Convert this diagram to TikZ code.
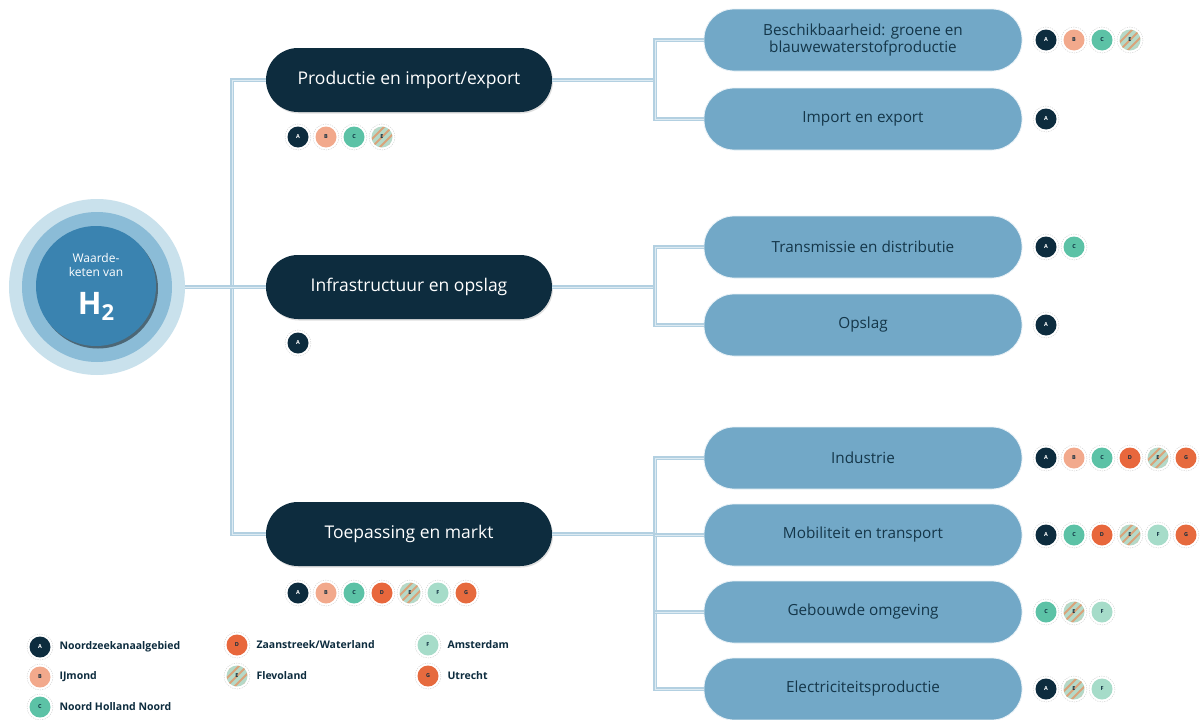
\documentclass[tikz,border=0pt]{standalone}
\usepackage{fontspec}
\setmainfont{Open Sans}
\usetikzlibrary{shadows}
\definecolor{navy}{HTML}{0D2C3E}
\definecolor{subblue}{HTML}{72A8C7}
\definecolor{subtext}{HTML}{143649}
\definecolor{lineblue}{HTML}{B3D0E1}
\definecolor{linein}{HTML}{DDEBF3}
\definecolor{ringA}{HTML}{C9E1EC}
\definecolor{ringB}{HTML}{8BBCD7}
\definecolor{coreblue}{HTML}{3A83B0}
\definecolor{colB}{HTML}{F2A98C}
\definecolor{colC}{HTML}{5CC2A6}
\definecolor{colD}{HTML}{E8673C}
\definecolor{colE}{HTML}{B5D9C8}
\definecolor{colEs}{HTML}{D9A37A}
\definecolor{colF}{HTML}{A6DCC9}
\definecolor{colG}{HTML}{E66A3E}
\tikzset{
  conn/.style={draw=lineblue, double=linein, double distance=0.9pt, line width=1.1pt, line join=miter},
  mainbox/.style={fill=navy, text=white, rounded corners=32pt, minimum width=286pt, minimum height=64pt,
    font=\fontsize{17.5}{20}\selectfont, drop shadow={opacity=0.25, shadow xshift=1pt, shadow yshift=-1.5pt, fill=gray}},
  subbox/.style={fill=subblue, draw=white!85!subblue, line width=0.8pt, text=subtext, rounded corners=30pt,
    minimum width=318pt, minimum height=62pt, align=center, font=\fontsize{15.3}{17}\selectfont},
  bdg/.style={circle, minimum size=21pt, inner sep=0pt, font=\fontsize{5.5}{6}\selectfont\bfseries, text=navy},
  ringst/.style={draw=black!18, dash pattern=on 1.2pt off 1.2pt, line width=0.5pt, fill=white},
  bA/.style={fill=navy, text=white},
  bB/.style={fill=colB},
  bC/.style={fill=colC},
  bD/.style={fill=colD},
  bE/.style={fill=colE, path picture={\foreach \i in {-24,-16,...,24}{\draw[colEs, line width=2pt] ([xshift=\i pt]path picture bounding box.south west) -- ++(22pt,22pt);}}},
  bF/.style={fill=colF},
  bG/.style={fill=colG},
  legtext/.style={anchor=west, text=navy, font=\fontsize{10.5}{12}\selectfont\bfseries},
}
\newcommand\bd[4]{\draw[ringst] ({#2},{#3}) circle (13); \node[bdg,b#4] (#1) at ({#2},{#3}) {#4};}
\newcommand\brow[4]{\foreach \l [count=\i] in {#4} {\bd{#1\i}{#2+28*(\i-1)}{#3}{\l}}}
\newcommand\htwo{\fontsize{31}{32}\selectfont\bfseries H\raisebox{-0.35ex}{\fontsize{22}{22}\selectfont 2}}
\begin{document}
\begin{tikzpicture}[x=1pt,y=-1pt]
\useasboundingbox[fill=white] (0,0) rectangle (1202,720);
% central circle
\node[circle, fill=ringA, minimum size=176pt, inner sep=0pt] (h2outer) at (97,287) {};
\node[circle, fill=ringB, minimum size=150pt, inner sep=0pt] (h2mid) at (97,287) {};
\node[circle, fill=coreblue, minimum size=120pt, inner sep=0pt,
  drop shadow={opacity=0.45, shadow xshift=2pt, shadow yshift=-2.5pt, fill=black}] (h2) at (96,286) {};
\node[text=white, align=center, font=\fontsize{12}{14}\selectfont] (h2t) at (96,265) {Waarde-\\keten van};
\node[text=white, inner sep=0pt] (h2f) at (96,306) {\htwo};
% main boxes
\node[mainbox] (p1) at (409,80) {Productie en import/export};
\node[mainbox] (p2) at (409,287) {Infrastructuur en opslag};
\node[mainbox] (p3) at (409,534) {Toepassing en markt};
% sub boxes
\node[subbox] (s1) at (863,40) {Beschikbaarheid: groene en\\blauwewaterstofproductie};
\node[subbox] (s2) at (863,119) {Import en export};
\node[subbox] (s3) at (863,247) {Transmissie en distributie};
\node[subbox] (s4) at (863,325) {Opslag};
\node[subbox] (s5) at (863,458) {Industrie};
\node[subbox] (s6) at (863,535) {Mobiliteit en transport};
\node[subbox] (s7) at (863,612) {Gebouwde omgeving};
\node[subbox] (s8) at (863,689) {Electriciteitsproductie};
% junction coordinates
\coordinate (t1) at (232,80);
\coordinate (t3) at (232,534);
\coordinate (k1) at (655,40);
\coordinate (k2) at (655,119);
\coordinate (k3) at (655,247);
\coordinate (k4) at (655,325);
\coordinate (k5) at (655,458);
\coordinate (k6) at (655,535);
\coordinate (k7) at (655,612);
\coordinate (k8) at (655,689);
% connectors
\draw[conn] (p1.west) -- (t1) -- (t3) -- (p3.west);
\draw[conn] (h2outer.east) -- (p2.west);
\draw[conn] (p1.east) -- (k1 |- p1.east);
\draw[conn] (s1.west) -- (k1) -- (k2) -- (s2.west);
\draw[conn] (p2.east) -- (k3 |- p2.east);
\draw[conn] (s3.west) -- (k3) -- (k4) -- (s4.west);
\draw[conn] (p3.east) -- (k6 |- p3.east);
\draw[conn] (s5.west) -- (k5) -- (k8) -- (s8.west);
\draw[conn] (k6) -- (s6.west);
\draw[conn] (k7) -- (s7.west);
% badges under main boxes
\brow{u1}{298}{137}{A,B,C,E}
\brow{u2}{298}{343}{A}
\brow{u3}{298}{593}{A,B,C,D,E,F,G}
% badges right of sub boxes
\brow{r1}{1046}{40}{A,B,C,E}
\brow{r2}{1046}{119}{A}
\brow{r3}{1046}{247}{A,C}
\brow{r4}{1046}{325}{A}
\brow{r5}{1046}{458}{A,B,C,D,E,G}
\brow{r6}{1046}{535}{A,C,D,E,F,G}
\brow{r7}{1046}{612}{C,E,F}
\brow{r8}{1046}{689}{A,E,F}
% legend
\bd{lA}{40}{647}{A}
\node[legtext] (tA) at (56,647) {Noordzeekanaalgebied};
\bd{lB}{40}{677}{B}
\node[legtext] (tB) at (56,677) {IJmond};
\bd{lC}{40}{707}{C}
\node[legtext] (tC) at (56,707) {Noord Holland Noord};
\bd{lD}{237}{645}{D}
\node[legtext] (tD) at (253,645) {Zaanstreek/Waterland};
\bd{lE}{237}{676}{E}
\node[legtext] (tE) at (253,676) {Flevoland};
\bd{lF}{428}{645}{F}
\node[legtext] (tF) at (444,645) {Amsterdam};
\bd{lG}{428}{676}{G}
\node[legtext] (tG) at (444,676) {Utrecht};
\end{tikzpicture}
\end{document}
